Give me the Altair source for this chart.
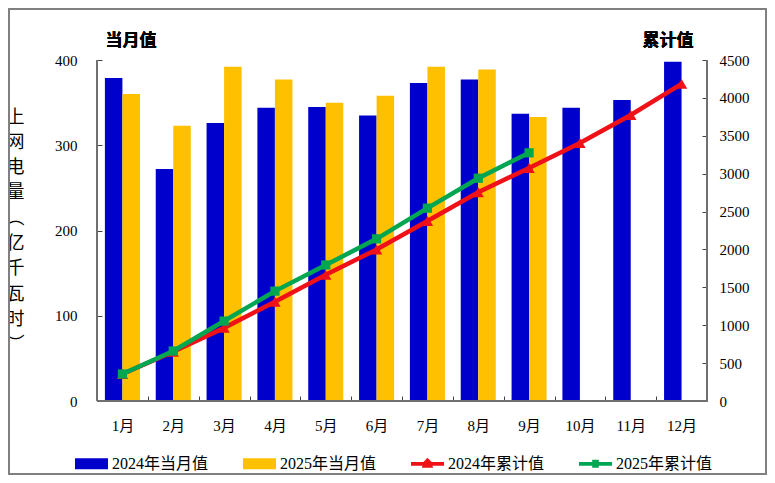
import altair as alt
import pandas as pd

months = ["1月", "2月", "3月", "4月", "5月", "6月", "7月", "8月", "9月", "10月", "11月", "12月"]
monthly_2024 = [379, 272, 326, 344, 345, 335, 373, 377, 337, 344, 353, 398]
monthly_2025 = [360, 323, 392, 377, 350, 358, 392, 389, 333]
cum_2024 = [356, 650, 965, 1310, 1665, 2000, 2375, 2755, 3075, 3405, 3775, 4185]
cum_2025 = [356, 660, 1055, 1450, 1795, 2140, 2545, 2940, 3275]
series = ["2024年当月值", "2025年当月值", "2024年累计值", "2025年累计值"]
colors = ["#0000CC", "#FFC000", "#F01018", "#00A651"]
y_title = ["上", "网", "电", "量", "︵", "亿", "千", "瓦", "时", "︶"]

FONT = "Liberation Serif, Noto Sans CJK SC"
BOLD = "Noto Sans CJK SC"
W, H = 610, 341

bars = pd.DataFrame(
    [{"month": m, "v": v, "series": series[0]} for m, v in zip(months, monthly_2024)]
    + [{"month": m, "v": v, "series": series[1]} for m, v in zip(months, monthly_2025)]
)
l24 = pd.DataFrame({"month": months, "v": cum_2024})
l25 = pd.DataFrame({"month": months[:len(cum_2025)], "v": cum_2025})
leg = pd.DataFrame({"series": series})

bar_icon = "M-1,-0.33H1V0.33H-1Z"
tri_icon = "M-1,-0.11H-0.25L0,-0.36L0.25,-0.11H1V0.12H0.3L0.34,0.24H-0.34L-0.3,0.12H-1Z"
sq_icon = "M-1,-0.11H-0.2V-0.24H0.2V-0.11H1V0.12H0.2V0.24H-0.2V0.12H-1Z"

x_enc = alt.X(
    "month:N", sort=months, title=None,
    scale=alt.Scale(domain=months, paddingInner=0, paddingOuter=0),
    axis=alt.Axis(
        labelAngle=0, tickBand="extent", offset=-5, tickSize=5, domain=False, grid=False,
        labelPadding=17, labelFont=FONT, labelFontSize=15, labelColor="#000",
        tickColor="#444", tickWidth=1,
    ),
)

left = alt.Chart(bars).mark_bar(size=17.5).encode(
    x=x_enc,
    xOffset=alt.XOffset("series:N", sort=series[:2],
                        scale=alt.Scale(domain=series[:2], paddingInner=0, paddingOuter=0.45)),
    y=alt.Y("v:Q", scale=alt.Scale(domain=[0, 400], nice=False),
            axis=alt.Axis(
                title=y_title, titleAngle=0, titleFont=BOLD, titleFontWeight="normal",
                titleFontSize=18, titleLineHeight=25.3, titleX=-87, titleY=48, titleAlign="center",
                titleBaseline="top", titleColor="#000",
                values=[0, 100, 200, 300, 400], offset=-5, tickSize=5, domain=False, grid=False,
                labelPadding=20, labelFont=FONT, labelFontSize=15, labelColor="#000",
                tickColor="#444", tickWidth=1,
            )),
    fill=alt.Fill("series:N", scale=alt.Scale(domain=series[:2], range=colors[:2]), legend=None),
)

y_right = alt.Y("v:Q", scale=alt.Scale(domain=[0, 4500], nice=False),
                axis=alt.Axis(
                    orient="right", title=None, format="d",
                    values=list(range(0, 4501, 500)), offset=-5, tickSize=5, domain=False, grid=False,
                    labelPadding=12, labelFont=FONT, labelFontSize=15, labelColor="#000",
                    tickColor="#444", tickWidth=1,
                ))

def cum_layer(df, shape, size, color):
    enc = dict(x=alt.X("month:N", sort=months, title=None), y=y_right)
    return (alt.Chart(df).mark_line(strokeWidth=4.5, color=color).encode(**enc)
            + alt.Chart(df).mark_point(shape=shape, filled=True, size=size, opacity=1, color=color).encode(**enc))

right = alt.layer(cum_layer(l24, "triangle-up", 130, colors[2]), cum_layer(l25, "square", 85, colors[3]))

legend_cfg = dict(
    title=None, orient="none", legendX=-22, legendY=H + 46, direction="horizontal", columns=4,
    symbolSize=1089, symbolOpacity=1, symbolStrokeWidth=0, labelFont=FONT, labelFontSize=16,
    labelColor="#000", labelOffset=4, columnPadding=34, gridAlign="all",
)
legend_layer = alt.Chart(leg).transform_filter("false").mark_point(filled=True, opacity=1).encode(
    x=alt.value(0), y=alt.value(0),
    color=alt.Color("series:N", scale=alt.Scale(domain=series, range=colors), legend=alt.Legend(**legend_cfg)),
    shape=alt.Shape("series:N", scale=alt.Scale(domain=series,
                    range=[bar_icon, bar_icon, tri_icon, sq_icon]), legend=alt.Legend(**legend_cfg)),
)

def rule(**kw):
    return alt.Chart(leg).mark_rule(color="#707070", strokeWidth=1.5).encode(**kw)

axis_lines = alt.layer(
    rule(x=alt.value(0), y=alt.value(0), y2=alt.value(H)),
    rule(x=alt.value(W), y=alt.value(0), y2=alt.value(H)),
    rule(x=alt.value(0), x2=alt.value(W), y=alt.value(H)),
)

def head(text, x):
    return alt.Chart(leg).mark_text(font=BOLD, fontSize=17, fontWeight="bold", color="#000", align="center").encode(
        x=alt.value(x), y=alt.value(-19), text=alt.value(text))

frame = alt.Chart(leg).mark_rect(fillOpacity=0, stroke="#808080", strokeWidth=1.5).encode(
    x=alt.value(-88), x2=alt.value(669), y=alt.value(-51), y2=alt.value(414))

chart = alt.layer(
    frame, left, right, axis_lines, legend_layer, head("当月值", 34), head("累计值", 571)
).resolve_scale(y="independent").properties(
    width=W, height=H,
    padding={"left": 89, "top": 52, "right": 60, "bottom": 74},
    autosize=alt.AutoSizeParams(type="none"),
    background="white",
).configure_view(stroke=None)

chart.save("out.html", embed_options={"renderer": "svg", "actions": False})
